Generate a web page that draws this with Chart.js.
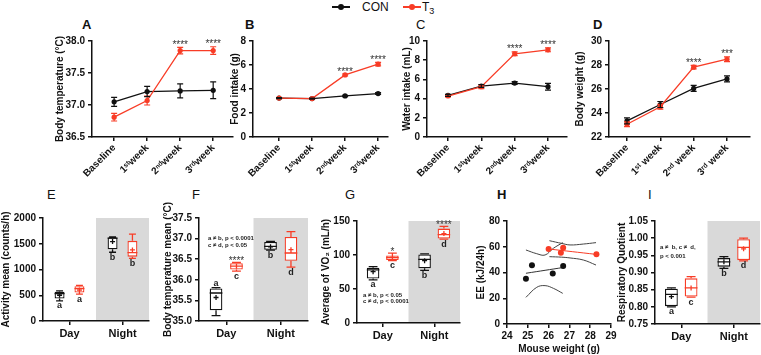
<!DOCTYPE html>
<html>
<head>
<meta charset="utf-8">
<script src="https://cdn.jsdelivr.net/npm/chart.js@4.4.1/dist/chart.umd.min.js"></script>
<style>
body { margin: 0; background: #fff; }
#fig { position: relative; width: 761px; height: 355px; overflow: hidden; font-family: "Liberation Sans", Arial, sans-serif; color: #111; }
#fig canvas { position: absolute; }
.tag { position: absolute; font-size: 13px; line-height: 13px; }
.key { position: absolute; font-size: 12px; line-height: 12px; }
.key sub { font-size: 9px; vertical-align: -3px; line-height: 0; }
.stroke { position: absolute; height: 1.5px; }
.dot { position: absolute; width: 6px; height: 6px; border-radius: 50%; }
</style>
</head>
<body>
<div id="fig">
  <div class="stroke" style="left:332px;top:6px;width:18px;background:#111"></div>
  <div class="dot" style="left:338px;top:4px;background:#111"></div>
  <div class="key" style="left:362px;top:1px">CON</div>
  <div class="stroke" style="left:403px;top:6px;width:18px;background:#f83c26"></div>
  <div class="dot" style="left:409px;top:4px;background:#f83c26"></div>
  <div class="key" style="left:422px;top:1px">T<sub>3</sub></div>

  <div class="tag" style="left:82px;top:18px;font-weight:bold">A</div>
  <div class="tag" style="left:245px;top:18px;font-weight:bold">B</div>
  <div class="tag" style="left:416px;top:18px">C</div>
  <div class="tag" style="left:593px;top:18px;font-weight:bold">D</div>
  <div class="tag" style="left:47px;top:188px">E</div>
  <div class="tag" style="left:192px;top:188px">F</div>
  <div class="tag" style="left:345px;top:188px">G</div>
  <div class="tag" style="left:497px;top:188px;font-weight:bold">H</div>
  <div class="tag" style="left:648px;top:188px">I</div>
</div>
<script>
// ---- top row: weekly measurements (mean, SEM) ----
const weeks = ['Baseline', '1ˢᵗweek', '2ⁿᵈweek', '3ʳᵈweek'];
const weeksD = ['Baseline', '1ˢᵗ week', '2ⁿᵈ week', '3ʳᵈ week'];

const tempCON = [37.05, 37.21, 37.22, 37.23];
const tempCONsem = [0.07, 0.08, 0.11, 0.13];
const tempT3 = [36.81, 37.07, 37.85, 37.85];
const tempT3sem = [0.06, 0.07, 0.05, 0.06];
const tempStars = ['', '', '****', '****'];

const foodCON = [3.24, 3.2, 3.42, 3.62];
const foodCONsem = [0.05, 0.04, 0.06, 0.07];
const foodT3 = [3.24, 3.2, 5.17, 6.07];
const foodT3sem = [0.05, 0.05, 0.08, 0.15];
const foodStars = ['', '', '****', '****'];

const waterCON = [4.34, 5.31, 5.62, 5.24];
const waterCONsem = [0.1, 0.15, 0.15, 0.35];
const waterT3 = [4.27, 5.24, 8.67, 9.08];
const waterT3sem = [0.1, 0.2, 0.2, 0.2];
const waterStars = ['', '', '****', '****'];

const weightCON = [23.34, 24.71, 26.05, 26.84];
const weightCONsem = [0.25, 0.25, 0.25, 0.25];
const weightT3 = [23.06, 24.52, 27.82, 28.48];
const weightT3sem = [0.2, 0.2, 0.15, 0.2];
const weightStars = ['', '', '****', '***'];

// ---- bottom row: box plots [min, q1, median, q3, max, mean] for Day, Night ----
const phases = ['Day', 'Night'];

const activityCON = [[390, 436, 530, 566, 586, 500], [1335, 1393, 1608, 1621, 1634, 1543]];
const activityT3 = [[520, 553, 630, 677, 690, 600], [1217, 1250, 1328, 1556, 1686, 1380]];

const bodyTempCON = [[35.13, 35.26, 35.68, 35.79, 35.81, 35.57], [36.72, 36.73, 36.81, 36.92, 36.93, 36.80]];
const bodyTempT3 = [[36.21, 36.25, 36.33, 36.40, 36.42, 36.33], [36.31, 36.46, 36.65, 37.04, 37.17, 36.73]];

const vo2CON = [[63.3, 65.3, 78, 81.3, 82.8, 75.5], [77.4, 80.4, 93.5, 100.8, 101.8, 91.6]];
const vo2T3 = [[91.6, 92.5, 96, 99.3, 102.8, 96.4], [123.2, 124.2, 130, 138.8, 142.2, 131.5]];

const rqCON = [[0.800, 0.802, 0.836, 0.853, 0.855, 0.830], [0.912, 0.917, 0.931, 0.942, 0.946, 0.931]];
const rqT3 = [[0.828, 0.830, 0.855, 0.883, 0.888, 0.855], [0.934, 0.936, 0.973, 0.997, 1.0, 0.969]];

// ---- H: energy expenditure vs body weight ----
const eeWeightCON = [24.91, 25.2, 26.2, 26.7];
const eeCON = [35.2, 45.7, 39.3, 45.0];
const eeWeightT3 = [26.0, 26.59, 26.7, 28.3];
const eeT3 = [58.3, 55.4, 59.3, 54.1];
const fitWeightCON = [24.91, 26.75];
const fitCON = [39.4, 44.0];
const bandWeightCON = [24.91, 25.43, 25.83, 26.23, 26.68];
const bandCONupper = [57.5, 54.6, 53.6, 58.8, 63.2];
const bandCONlower = [20.7, 28.5, 29.8, 27.7, 23.8];
const fitWeightT3 = [25.99, 28.28];
const fitT3 = [58.3, 54.1];
const bandWeightT3 = [26.04, 26.63, 27.03, 27.67, 28.28];
const bandT3upper = [64.7, 62.6, 61.4, 62.1, 63.2];
const bandT3lower = [52.3, 51.9, 51.3, 49.7, 45.8];

const conColor = '#111';
const t3Color = '#f83c26';
const bold10 = {size: 10, weight: 'bold'};
Chart.defaults.font.family = '"Liberation Sans", Arial, sans-serif';
Chart.defaults.color = '#111';

const fig = document.getElementById('fig');
function place(box) {
    const c = document.createElement('canvas');
    c.width = box[2];
    c.height = box[3];
    c.style.left = box[0] + 'px';
    c.style.top = box[1] + 'px';
    fig.appendChild(c);
    return c;
}

function padding(box, area) {
    return {top: area[1] - box[1], right: box[0] + box[2] - area[2], left: 0, bottom: 0};
}

function yAxis(s, width) {
    return {
        min: s.min,
        max: s.max,
        border: {color: conColor, width: 1.5},
        grid: {drawOnChartArea: false, color: conColor, lineWidth: 1.5, tickLength: 4},
        ticks: {stepSize: s.step, font: bold10, padding: 3, callback: v => v.toFixed(s.digits)},
        title: {display: true, text: s.title, font: bold10, padding: 0},
        afterFit: sc => { sc.width = width; },
    };
}

// error bars + significance stars for the weekly panels
function errorBars(series, stars) {
    return {
        id: 'errorBars',
        afterDatasetsDraw(chart) {
            const {ctx, scales: {x, y}} = chart;
            ctx.save();
            ctx.lineWidth = 1.2;
            series.forEach(s => {
                ctx.strokeStyle = s.color;
                s.values.forEach((v, i) => {
                    const px = x.getPixelForValue(i);
                    const top = y.getPixelForValue(v + s.sem[i]);
                    const bot = y.getPixelForValue(v - s.sem[i]);
                    ctx.beginPath();
                    ctx.moveTo(px, top); ctx.lineTo(px, bot);
                    ctx.moveTo(px - 3, top); ctx.lineTo(px + 3, top);
                    ctx.moveTo(px - 3, bot); ctx.lineTo(px + 3, bot);
                    ctx.stroke();
                });
            });
            ctx.fillStyle = '#333';
            ctx.font = '10px "Liberation Sans", Arial';
            ctx.textAlign = 'center';
            stars.forEach((st, i) => {
                if (!st) return;
                const hi = Math.max(...series.map(s => s.values[i] + s.sem[i]));
                ctx.fillText(st, x.getPixelForValue(i), y.getPixelForValue(hi) + 0.5);
            });
            ctx.restore();
        }
    };
}

function linePanel(box, area, labels, series, stars, yScale, xRange) {
    const xH = box[1] + box[3] - area[3];
    return new Chart(place(box), {
        type: 'line',
        data: {
            datasets: series.map(s => ({
                data: s.values.map((v, i) => ({x: i, y: v})),
                borderColor: s.color,
                backgroundColor: s.color,
                pointBackgroundColor: s.color,
                borderWidth: 1.3,
                pointRadius: 2.6,
                pointBorderWidth: 0,
            })),
        },
        options: {
            responsive: false,
            animation: false,
            layout: {padding: padding(box, area)},
            plugins: {legend: {display: false}, tooltip: {enabled: false}},
            scales: {
                x: {
                    type: 'linear',
                    min: xRange[0],
                    max: xRange[1],
                    afterBuildTicks: sc => { sc.ticks = labels.map((_, i) => ({value: i})); },
                    border: {color: conColor, width: 1.5},
                    grid: {drawOnChartArea: false, color: conColor, lineWidth: 1.5, tickLength: 4},
                    ticks: {font: bold10, minRotation: 45, maxRotation: 45, padding: 1, autoSkip: false,
                        callback: v => labels[v]},
                    afterFit: sc => { sc.height = xH; },
                },
                y: yAxis(yScale, area[0] - box[0]),
            },
        },
        plugins: [errorBars(series, stars)],
    });
}

// whiskers, medians, means, letters, stars, notes and the grey night band
function boxDecor(stats, marks) {
    const colors = [conColor, t3Color];
    return {
        id: 'boxDecor',
        beforeDraw(chart) {
            const {ctx, chartArea: a, scales: {x}} = chart;
            const x0 = (x.getPixelForValue(0) + x.getPixelForValue(1)) / 2;
            ctx.save();
            ctx.fillStyle = '#d9d9d9';
            ctx.fillRect(x0, a.top, a.right - x0, a.bottom - a.top);
            ctx.restore();
        },
        afterDatasetsDraw(chart) {
            const {ctx, chartArea: a, scales: {y}} = chart;
            const py = v => y.getPixelForValue(v);
            ctx.save();
            ctx.lineWidth = 1.3;
            stats.forEach((set, k) => {
                const meta = chart.getDatasetMeta(k);
                set.forEach((s, j) => {
                    const bar = meta.data[j];
                    const cx = bar.x, w = bar.width, cap = w * 0.35;
                    ctx.strokeStyle = colors[k];
                    ctx.beginPath();
                    ctx.moveTo(cx, py(s[3])); ctx.lineTo(cx, py(s[4]));
                    ctx.moveTo(cx - cap, py(s[4])); ctx.lineTo(cx + cap, py(s[4]));
                    ctx.moveTo(cx, py(s[1])); ctx.lineTo(cx, py(s[0]));
                    ctx.moveTo(cx - cap, py(s[0])); ctx.lineTo(cx + cap, py(s[0]));
                    ctx.moveTo(cx - w / 2, py(s[2])); ctx.lineTo(cx + w / 2, py(s[2]));
                    const my = py(s[5]);
                    ctx.moveTo(cx - 2.5, my); ctx.lineTo(cx + 2.5, my);
                    ctx.moveTo(cx, my - 2.5); ctx.lineTo(cx, my + 2.5);
                    ctx.stroke();

                    ctx.textAlign = 'center';
                    ctx.textBaseline = 'alphabetic';
                    ctx.fillStyle = '#222';
                    ctx.font = 'bold 9px "Liberation Sans", Arial';
                    const letter = marks.letters[k][j];
                    if (marks.above[k][j]) ctx.fillText(letter, cx, py(s[4]) - 2);
                    else ctx.fillText(letter, cx, py(s[0]) + 7.5);
                    const st = marks.stars[k][j];
                    if (st) {
                        ctx.fillStyle = '#333';
                        ctx.font = '10px "Liberation Sans", Arial';
                        ctx.fillText(st, cx, py(s[4]) + 1.5);
                    }
                });
            });
            ctx.fillStyle = '#222';
            ctx.font = 'bold 6px "Liberation Sans", Arial';
            ctx.textAlign = 'left';
            ctx.textBaseline = 'middle';
            marks.notes.forEach(n => ctx.fillText(n.text, a.left + n.dx, a.top + n.dy));
            ctx.restore();
        }
    };
}

function boxPanel(box, area, stats, yScale, marks) {
    const colors = [conColor, t3Color];
    const xH = box[1] + box[3] - area[3];
    return new Chart(place(box), {
        type: 'bar',
        data: {
            labels: phases,
            datasets: stats.map((set, k) => ({
                data: set.map(s => [s[1], s[3]]),
                backgroundColor: '#fff',
                borderColor: colors[k],
                borderWidth: 1.3,
                borderSkipped: false,
                categoryPercentage: 0.75,
                barPercentage: marks.barPct,
            })),
        },
        options: {
            responsive: false,
            animation: false,
            layout: {padding: padding(box, area)},
            plugins: {legend: {display: false}, tooltip: {enabled: false}},
            scales: {
                x: {
                    offset: true,
                    border: {color: conColor, width: 1.5},
                    grid: {drawOnChartArea: false, offset: false, color: conColor, lineWidth: 1.5, tickLength: 4},
                    ticks: {font: {size: 11, weight: 'bold'}, padding: 2},
                    afterFit: sc => { sc.height = xH; },
                },
                y: yAxis(yScale, area[0] - box[0]),
            },
        },
        plugins: [boxDecor(stats, marks)],
    });
}

// ---- A-D ----
linePanel([54, 30, 187, 155], [92, 41, 233, 137], weeks,
    [{values: tempT3, sem: tempT3sem, color: t3Color}, {values: tempCON, sem: tempCONsem, color: conColor}],
    tempStars, {min: 36.5, max: 38, step: 0.5, digits: 1, title: 'Body temperature (°C)'}, [-0.67, 3.6]);

linePanel([229, 30, 167, 155], [253, 41, 388, 137], weeks,
    [{values: foodT3, sem: foodT3sem, color: t3Color}, {values: foodCON, sem: foodCONsem, color: conColor}],
    foodStars, {min: 0, max: 8, step: 2, digits: 0, title: 'Food intake (g)'}, [-0.79, 3.3]);

linePanel([401, 30, 174, 155], [427, 41, 567, 137], weeks,
    [{values: waterT3, sem: waterT3sem, color: t3Color}, {values: waterCON, sem: waterCONsem, color: conColor}],
    waterStars, {min: 0, max: 10, step: 2, digits: 0, title: 'Water intake (mL)'}, [-0.63, 3.57]);

linePanel([574, 30, 184, 155], [609, 41, 750, 137], weeksD,
    [{values: weightT3, sem: weightT3sem, color: t3Color}, {values: weightCON, sem: weightCONsem, color: conColor}],
    weightStars, {min: 22, max: 30, step: 2, digits: 0, title: 'Body weight (g)'}, [-0.54, 3.69]);

// ---- E, F, G, I ----
boxPanel([0, 200, 155, 155], [43, 218, 149, 321], [activityCON, activityT3],
    {min: 0, max: 2000, step: 500, digits: 0, title: 'Activity mean (counts/h)'},
    {barPct: 0.5, letters: [['a', 'b'], ['a', 'b']], above: [[false, false], [false, false]],
     stars: [['', ''], ['', '']], notes: []});

boxPanel([162, 200, 152, 155], [199, 218, 308, 321], [bodyTempCON, bodyTempT3],
    {min: 35, max: 37.5, step: 0.5, digits: 1, title: 'Body temperature mean (°C)'},
    {barPct: 0.62, letters: [['a', 'b'], ['c', 'd']], above: [[true, false], [false, false]],
     stars: [['', ''], ['****', '']],
     notes: [{text: 'a ≠ b, p < 0.0001', dx: 9, dy: 20}, {text: 'c ≠ d, p < 0.05', dx: 9, dy: 27}]});

boxPanel([320, 200, 146, 155], [357, 221, 460, 323], [vo2CON, vo2T3],
    {min: 0, max: 150, step: 50, digits: 0, title: 'Average of VO₂ (mL/h)'},
    {barPct: 0.65, letters: [['a', 'b'], ['c', 'd']], above: [[false, false], [false, false]],
     stars: [['', ''], ['*', '****']],
     notes: [{text: 'a ≠ b, p < 0.05', dx: 6, dy: 74}, {text: 'c ≠ d, p < 0.0001', dx: 6, dy: 80}]});

boxPanel([616, 200, 145, 155], [655, 221, 760, 324], [rqCON, rqT3],
    {min: 0.75, max: 1.05, step: 0.05, digits: 2, title: 'Respiratory Quotient'},
    {barPct: 0.65, letters: [['a', 'b'], ['c', 'd']], above: [[false, false], [false, false]],
     stars: [['', ''], ['', '']],
     notes: [{text: 'a ≠  b, c ≠  d,', dx: 5, dy: 26}, {text: 'p < 0.001', dx: 5, dy: 35}]});

// ---- H ----
function pts(xs, ys, color) {
    return {data: xs.map((x, i) => ({x, y: ys[i]})), backgroundColor: color, pointRadius: 3,
        pointBorderWidth: 0, showLine: false};
}
function curve(xs, ys, color) {
    return {data: xs.map((x, i) => ({x, y: ys[i]})), borderColor: color, borderWidth: 1,
        pointRadius: 0, showLine: true, tension: 0.4, fill: false};
}
const boxH = [475, 200, 146, 155], areaH = [507, 221, 611, 324];
new Chart(place(boxH), {
    type: 'scatter',
    data: {
        datasets: [
            pts(eeWeightCON, eeCON, conColor),
            pts(eeWeightT3, eeT3, t3Color),
            curve(fitWeightCON, fitCON, '#333'),
            curve(fitWeightT3, fitT3, t3Color),
            curve(bandWeightCON, bandCONupper, '#444'),
            curve(bandWeightCON, bandCONlower, '#444'),
            curve(bandWeightT3, bandT3upper, '#444'),
            curve(bandWeightT3, bandT3lower, '#444'),
        ],
    },
    options: {
        responsive: false,
        animation: false,
        layout: {padding: padding(boxH, areaH)},
        plugins: {legend: {display: false}, tooltip: {enabled: false}},
        scales: {
            x: {
                min: 24,
                max: 29,
                border: {color: conColor, width: 1.5},
                grid: {drawOnChartArea: false, color: conColor, lineWidth: 1.5, tickLength: 4},
                ticks: {stepSize: 1, font: bold10, padding: 2},
                title: {display: true, text: 'Mouse weight (g)', font: bold10, padding: 0},
                afterFit: sc => { sc.height = boxH[1] + boxH[3] - areaH[3]; },
            },
            y: yAxis({min: 0, max: 80, step: 20, digits: 0, title: 'EE (kJ/24h)'}, areaH[0] - boxH[0]),
        },
    },
});
</script>
</body>
</html>
